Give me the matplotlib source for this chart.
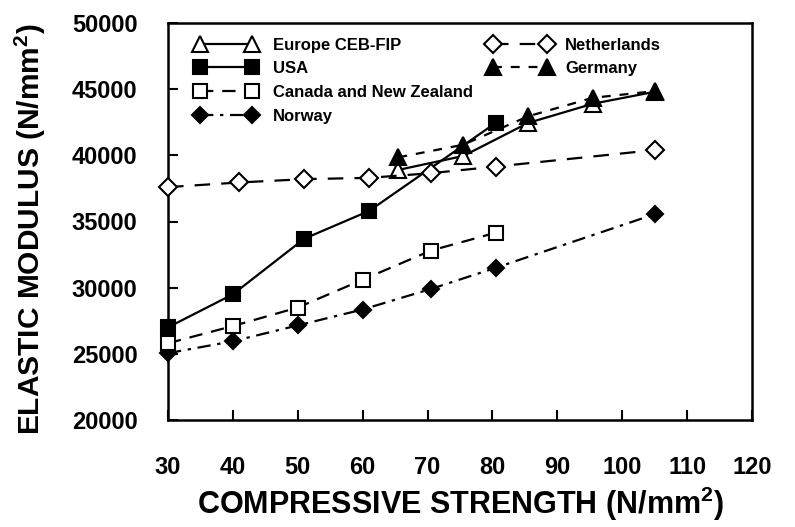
import matplotlib
matplotlib.use("Agg")
import matplotlib.pyplot as plt
from matplotlib.lines import Line2D

plt.rcParams['font.family'] = ['Liberation Sans', 'DejaVu Sans']

# Compressive strength (N/mm^2) and elastic modulus (N/mm^2) per code
europe_x = [65.5, 75.5, 85.5, 95.5, 105]
europe_y = [38900, 39950, 42450, 43900, 44800]

usa_x = [30, 40, 51, 61, 80.5]
usa_y = [27000, 29500, 33700, 35800, 42450]

canada_x = [30, 40, 50, 60, 70.5, 80.5]
canada_y = [25800, 27100, 28500, 30600, 32800, 34150]

norway_x = [30, 40, 50, 60, 70.5, 80.5, 105]
norway_y = [25050, 25950, 27150, 28350, 29900, 31500, 35550]

netherlands_x = [30, 41, 51, 61, 70.5, 80.5, 105]
netherlands_y = [37600, 37950, 38200, 38300, 38650, 39150, 40400]

germany_x = [65.5, 75.5, 85.5, 95.5, 105]
germany_y = [39850, 40800, 42950, 44350, 44850]

x_ticks = [30, 40, 50, 60, 70, 80, 90, 100, 110, 120]
y_ticks = [20000, 25000, 30000, 35000, 40000, 45000, 50000]

fig = plt.figure(figsize=(7.95, 5.27), dpi=100)
ax = fig.add_axes([168 / 795, 1 - 420 / 527, (752 - 168) / 795, (420 - 23) / 527])

lw = 1.6
common = dict(color='black', linewidth=lw, clip_on=False, markeredgewidth=1.5,
              markeredgecolor='black')

styles = {
    'Norway': dict(marker='D', markersize=8.5, markerfacecolor='black',
                   linestyle=(0, (6, 3, 1.5, 3))),
    'Canada and New Zealand': dict(marker='s', markersize=9.5, markerfacecolor='white',
                                   linestyle=(0, (6, 4))),
    'USA': dict(marker='s', markersize=9.5, markerfacecolor='black', linestyle='-'),
    'Europe CEB-FIP': dict(marker='^', markersize=12, markerfacecolor='white',
                           linestyle='-'),
    'Germany': dict(marker='^', markersize=11, markerfacecolor='black',
                    linestyle=(0, (4, 4))),
    'Netherlands': dict(marker='D', markersize=9.5, markerfacecolor='white',
                        linestyle=(0, (7, 5))),
}

series = [
    ('Norway', norway_x, norway_y),
    ('Canada and New Zealand', canada_x, canada_y),
    ('USA', usa_x, usa_y),
    ('Europe CEB-FIP', europe_x, europe_y),
    ('Germany', germany_x, germany_y),
    ('Netherlands', netherlands_x, netherlands_y),
]

z = 3
for name, xs, ys in series:
    ax.plot(xs, ys, label=name, zorder=z, **common, **styles[name])
    z += 1

ax.set_xlim(30, 120)
ax.set_ylim(20000, 50000)
ax.set_xticks(x_ticks)
ax.set_yticks(y_ticks)
ax.tick_params(direction='in', length=7, width=1.5)
ax.tick_params(axis='x', pad=26, labelsize=17)
ax.tick_params(axis='y', pad=22, labelsize=17)
for lab in ax.get_xticklabels() + ax.get_yticklabels():
    lab.set_fontweight('bold')
for sp in ax.spines.values():
    sp.set_linewidth(1.8)

ax.set_xlabel('COMPRESSIVE STRENGTH (N/mm$^\\mathregular{2}$)', fontsize=22,
              fontweight='bold', labelpad=4)
ax.set_ylabel('ELASTIC MODULUS (N/mm$^\\mathregular{2}$)', fontsize=21.5,
              fontweight='bold')
ax.yaxis.set_label_coords(-0.205, 0.48)


def handle(name):
    return Line2D([], [], color='black', linewidth=lw, markeredgewidth=1.5,
                  markeredgecolor='black', **styles[name])


legend_font = dict(size=12, weight='bold')
left_names = ['Europe CEB-FIP', 'USA', 'Canada and New Zealand', 'Norway']
leg1 = ax.legend([handle(n) for n in left_names], left_names, loc='upper left',
                 bbox_to_anchor=(0.035, 0.98), frameon=False, numpoints=2,
                 handlelength=3.7, labelspacing=0.52, handletextpad=0.95,
                 prop=legend_font, borderaxespad=0)
ax.add_artist(leg1)
right_names = ['Netherlands', 'Germany']
ax.legend([handle(n) for n in right_names], right_names, loc='upper left',
          bbox_to_anchor=(0.537, 0.98), frameon=False, numpoints=2,
          handlelength=3.8, labelspacing=0.52, handletextpad=0.8,
          prop=legend_font, borderaxespad=0)

fig.savefig('out.png', dpi=100)
